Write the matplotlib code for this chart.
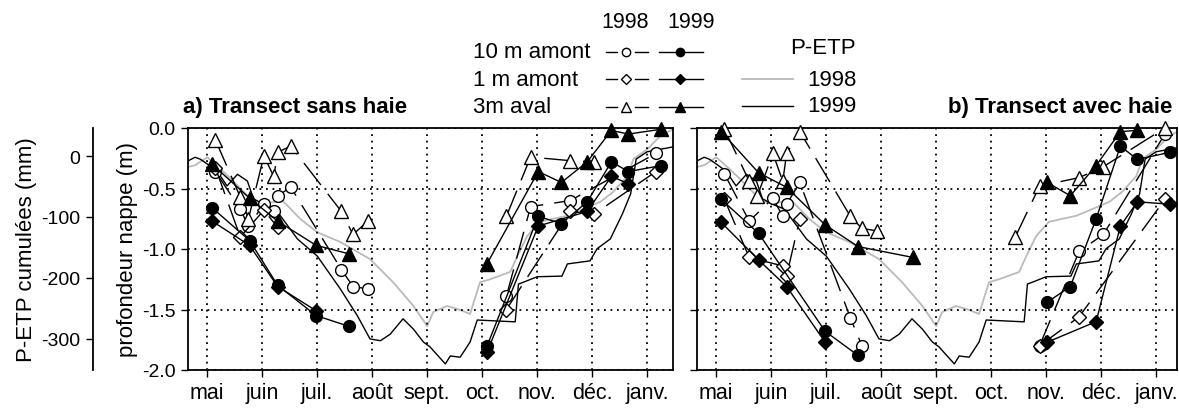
import numpy as np
import matplotlib.pyplot as plt

plt.rcParams["font.family"] = ["Liberation Sans", "DejaVu Sans"]
plt.rcParams["axes.unicode_minus"] = False

nan = np.nan

months = ["mai", "juin", "juil.", "août", "sept.", "oct.", "nov.", "déc.", "janv."]
depth_ticks = [0.0, -0.5, -1.0, -1.5, -2.0]
depth_labels = ["0.0", "-0.5", "-1.0", "-1.5", "-2.0"]
petp_ticks = [0, -100, -200, -300]

# x = months after 1 May
# P-ETP cumulees (mm)
petp98_x = [-0.35, -0.22, 0.0, 0.24, 0.47, 0.84, 1.05, 1.38, 1.69, 2.0, 2.42, 2.96, 3.38,
            3.75, 4.0, 4.11, 4.36, 4.55, 4.78, 4.96, 5.15, 5.51, 5.64, 5.82, 6.05, 6.29,
            6.55, 6.84, 7.15, 7.38, 7.64, 7.75, 8.0, 8.24, 8.47]
petp98 = [-18, -15, -2, -21, -41, -75, -77, -74, -103, -125, -141, -169, -207,
          -246, -279, -256, -246, -251, -259, -207, -202, -190, -164, -131, -108, -103,
          -98, -87, -75, -59, -33, -5, 11, 33, 44]
petp99_x = [-0.35, -0.22, -0.13, 0.0, 0.18, 0.36, 0.55, 0.73, 0.84, 1.02, 1.24, 1.64, 2.0,
            2.42, 2.73, 2.96, 3.15, 3.33, 3.56, 3.75, 3.93, 4.05, 4.33, 4.42, 4.6, 4.78,
            4.91, 5.6, 5.66, 5.75, 6.0, 6.45, 6.55, 6.96, 7.09, 7.33, 7.55, 7.7, 7.8, 8.0, 8.47]
petp99 = [-8, -2, -5, -13, -25, -49, -30, -41, -70, -79, -87, -136, -164,
          -218, -262, -300, -303, -292, -267, -284, -305, -313, -341, -328, -330, -305,
          -269, -272, -210, -207, -198, -197, -177, -172, -152, -136, -95, -62, -5, 7, 15]

# a) transect sans haie - profondeur nappe (m)
a_cir98_x = [0.15, 0.60, 0.75, 1.03, 1.21, 1.28, 1.52, 2.44, 2.65, 2.92, nan, 5.44, 5.88, 6.6, 8.16]
a_cir98_y = [-0.36, -0.67, -0.81, -0.63, -0.69, -0.56, -0.49, -1.17, -1.31, -1.33, nan, -1.39, -0.65, -0.60, -0.21]
a_dia98_x = [0.15, 0.60, 1.03, 1.28, nan, 5.44, 6.6, 7.04, 8.16]
a_dia98_y = [-0.33, -0.90, -0.68, -0.82, nan, -1.50, -0.69, -0.71, -0.36]
a_tri98_x = [0.15, 0.60, 0.75, 1.03, 1.21, 1.28, 1.52, 2.44, 2.65, 2.92, nan, 5.44, 5.88, 6.6, 7.04]
a_tri98_y = [-0.10, -0.57, -0.75, -0.23, -0.40, -0.20, -0.15, -0.69, -0.88, -0.77, nan, -0.73, -0.24, -0.27, -0.28]
a_cir99_x = [0.09, 0.77, 1.28, 1.98, 2.58, nan, 5.09, 6.02, 6.44, 6.91, 7.35, 7.66, 8.26]
a_cir99_y = [-0.66, -0.93, -1.30, -1.55, -1.64, nan, -1.80, -0.73, -0.79, -0.61, -0.28, -0.36, -0.31]
a_dia99_x = [0.09, 0.77, 1.28, 1.98, nan, 5.09, 6.02, 6.91, 7.35, 7.66]
a_dia99_y = [-0.77, -0.97, -1.31, -1.51, nan, -1.85, -0.81, -0.69, -0.40, -0.46]
a_tri99_x = [0.09, 0.77, 1.28, 1.98, 2.58, nan, 5.09, 6.02, 6.44, 6.91, 7.35, 7.66, 8.26]
a_tri99_y = [-0.30, -0.58, -0.77, -0.97, -1.04, nan, -1.12, -0.36, -0.45, -0.28, -0.02, -0.05, -0.01]

# b) transect avec haie
b_cir98_x = [0.15, 0.60, 1.03, 1.21, 1.28, 1.52, 2.44, 2.65, nan, 5.88, 6.6, 7.04, 8.16]
b_cir98_y = [-0.38, -0.77, -0.58, -0.73, -0.63, -0.45, -1.57, -1.80, nan, -1.80, -1.02, -0.88, -0.05]
b_dia98_x = [0.15, 0.60, 1.21, 1.28, 1.52, nan, 5.88, 6.6, 8.16]
b_dia98_y = [-0.59, -1.07, -1.14, -1.22, -0.75, nan, -1.80, -1.56, -0.59]
b_tri98_x = [0.15, 0.60, 0.75, 1.03, 1.21, 1.28, 1.52, 2.44, 2.65, 2.92, nan, 5.44, 5.88, 6.6, 7.04, 8.16]
b_tri98_y = [-0.01, -0.44, -0.56, -0.21, -0.44, -0.21, -0.03, -0.73, -0.83, -0.85, nan, -0.90, -0.48, -0.41, -0.32, 0.0]
b_cir99_x = [0.09, 0.77, 1.98, 2.58, nan, 6.02, 6.44, 6.91, 7.35, 7.66, 8.26]
b_cir99_y = [-0.59, -0.87, -1.68, -1.88, nan, -1.44, -1.31, -0.75, -0.15, -0.26, -0.20]
b_dia99_x = [0.09, 0.77, 1.28, 1.98, nan, 6.02, 6.91, 7.35, 7.66, 8.26]
b_dia99_y = [-0.78, -1.09, -1.31, -1.77, nan, -1.77, -1.60, -0.81, -0.61, -0.63]
b_tri99_x = [0.09, 0.77, 1.28, 1.98, 2.58, 3.58, nan, 6.02, 6.44, 6.91, 7.35, 7.66]
b_tri99_y = [-0.03, -0.37, -0.49, -0.80, -0.98, -1.07, nan, -0.45, -0.56, -0.31, -0.03, -0.02]

DASH = (0, (20, 8))
MS = {"o": 8.5, "D": 7.5, "^": 9.5}


def draw_series(ax, x, y, marker, year):
    if year == 1998:
        ax.plot(x, y, color="k", lw=1.0, linestyle=DASH, marker=marker, ms=MS[marker],
                mfc="white", mec="k", mew=1.0, clip_on=False, zorder=3)
    else:
        ax.plot(x, y, color="k", lw=1.0, linestyle="-", marker=marker, ms=MS[marker],
                mfc="k", mec="k", mew=1.0, clip_on=False, zorder=4)


def setup(ax, xmax, show_labels):
    ax.set_xlim(-0.35, xmax)
    ax.set_ylim(-2.0, 0.0)
    ax.set_xticks(range(len(months)))
    ax.set_xticklabels(months, fontsize=15.5)
    ax.set_yticks(depth_ticks)
    if show_labels:
        ax.set_yticklabels(depth_labels, fontsize=14)
        ax.set_ylabel("profondeur nappe (m)", fontsize=16, labelpad=3)
    else:
        ax.set_yticklabels([])
    ax.tick_params(direction="out", length=5, width=1, pad=4)
    ax.set_axisbelow(True)
    ax.grid(True, color="k", linestyle=(0, (1, 2.6)), lw=1.3)
    for s in ax.spines.values():
        s.set_linewidth(1.3)


fig = plt.figure(figsize=(11.79, 4.14), dpi=100)

ax_a = fig.add_axes([188 / 1179, 43 / 414, 485 / 1179, 242 / 414])
ax_b = fig.add_axes([697 / 1179, 43 / 414, 480 / 1179, 242 / 414])

for ax, xmax, lab in [(ax_a, 8.47, True), (ax_b, 8.38, False)]:
    axp = ax.twinx()
    ax.set_zorder(axp.get_zorder() + 1)
    ax.patch.set_visible(False)
    axp.set_ylim(-351, 46)
    axp.plot(petp98_x, petp98, color="#bababa", lw=1.3)
    axp.plot(petp99_x, petp99, color="k", lw=1.0)
    for s in ["right", "top", "bottom"]:
        axp.spines[s].set_visible(False)
    if lab:
        axp.yaxis.set_ticks_position("left")
        axp.yaxis.set_label_position("left")
        axp.spines["left"].set_position(("outward", 68.4))
        axp.spines["left"].set_linewidth(1.3)
        axp.set_yticks(petp_ticks)
        axp.set_yticklabels([str(v) for v in petp_ticks], fontsize=14)
        axp.tick_params(direction="out", length=5, width=1, pad=4)
        axp.set_ylabel("P-ETP cumulées (mm)", fontsize=16, labelpad=3)
    else:
        axp.spines["left"].set_visible(False)
        axp.yaxis.set_visible(False)
    setup(ax, xmax, lab)

series_a = [(a_cir98_x, a_cir98_y, "o", 1998), (a_dia98_x, a_dia98_y, "D", 1998),
            (a_tri98_x, a_tri98_y, "^", 1998), (a_cir99_x, a_cir99_y, "o", 1999),
            (a_dia99_x, a_dia99_y, "D", 1999), (a_tri99_x, a_tri99_y, "^", 1999)]
series_b = [(b_cir98_x, b_cir98_y, "o", 1998), (b_dia98_x, b_dia98_y, "D", 1998),
            (b_tri98_x, b_tri98_y, "^", 1998), (b_cir99_x, b_cir99_y, "o", 1999),
            (b_dia99_x, b_dia99_y, "D", 1999), (b_tri99_x, b_tri99_y, "^", 1999)]
for x, y, m, yr in series_a:
    draw_series(ax_a, x, y, m, yr)
for x, y, m, yr in series_b:
    draw_series(ax_b, x, y, m, yr)

# titles
fig.text(183 / 1179, 1 - 108 / 414, "a) Transect sans haie", fontsize=16,
         fontweight="bold", va="center", ha="left")
fig.text(1172 / 1179, 1 - 108 / 414, "b) Transect avec haie", fontsize=16,
         fontweight="bold", va="center", ha="right")

# legend drawn in pixel coordinates on an overlay
leg = fig.add_axes([0, 0, 1, 1], zorder=10)
leg.set_xlim(0, 1179)
leg.set_ylim(414, 0)
leg.axis("off")
leg.patch.set_visible(False)
leg.text(625, 23, "1998", fontsize=15.5, ha="center", va="center")
leg.text(691, 23, "1999", fontsize=15.5, ha="center", va="center")
rows = [("10 m amont", "o", 53), ("1 m amont", "D", 80), ("3m aval", "^", 108)]
for label, m, yy in rows:
    leg.text(473, yy, label, fontsize=16, ha="left", va="center")
    leg.plot([606, 617], [yy, yy], color="k", lw=1.0)
    leg.plot([635, 648], [yy, yy], color="k", lw=1.0)
    leg.plot([626], [yy], marker=m, ms=MS[m] - 2.5, mfc="white", mec="k", mew=1.0)
    leg.plot([659, 703], [yy, yy], color="k", lw=1.0)
    leg.plot([680], [yy], marker=m, ms=MS[m] - 2.5, mfc="k", mec="k")
leg.text(823, 48, "P-ETP", fontsize=16, ha="center", va="center")
leg.plot([742, 793], [80, 80], color="#bababa", lw=1.3)
leg.text(807, 80, "1998", fontsize=16, ha="left", va="center")
leg.plot([742, 793], [107, 107], color="k", lw=1.0)
leg.text(807, 107, "1999", fontsize=16, ha="left", va="center")

fig.savefig("out.png", dpi=100)
